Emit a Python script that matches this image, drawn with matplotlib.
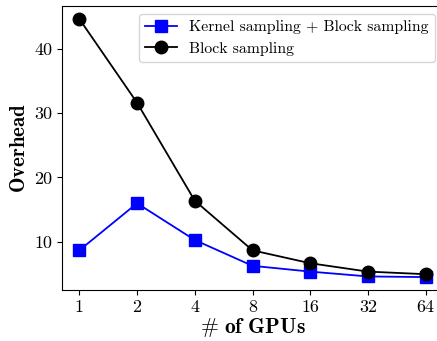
import matplotlib
matplotlib.use("Agg")
from matplotlib import pyplot as plt

gpus = ["1", "2", "4", "8", "16", "32", "64"]
kernel_block = [8.7, 16.0, 10.3, 6.3, 5.4, 4.65, 4.55]
block = [44.6, 31.6, 16.4, 8.7, 6.7, 5.4, 5.0]

plt.rcParams["font.family"] = "serif"
plt.rcParams["font.serif"] = ["cmr10"]
plt.rcParams["mathtext.fontset"] = "cm"
plt.rcParams["axes.unicode_minus"] = False

fig = plt.figure(figsize=(4.37, 3.41), dpi=100)
ax = fig.add_axes([62 / 437, 51 / 341, 381 / 437, 284 / 341])

x = list(range(len(gpus)))
ax.plot(x, kernel_block, color="blue", marker="s", markersize=9, linewidth=1.3,
        label="Kernel sampling + Block sampling")
ax.plot(x, block, color="black", marker="o", markersize=9, linewidth=1.3,
        label="Block sampling")

ax.set_xticks(x)
ax.set_xticklabels(gpus)
ax.set_yticks([10, 20, 30, 40])
ax.tick_params(labelsize=13)
ax.set_xlabel(r"$\#\ \mathbf{of\ GPUs}$", fontsize=15.5, labelpad=1)
ax.set_ylabel(r"$\mathbf{Overhead}$", fontsize=15)
ax.legend(loc="upper right", fontsize=11.3, bbox_to_anchor=(1.0, 1.0),
          handlelength=2.0)

fig.savefig("out.png", dpi=100)
